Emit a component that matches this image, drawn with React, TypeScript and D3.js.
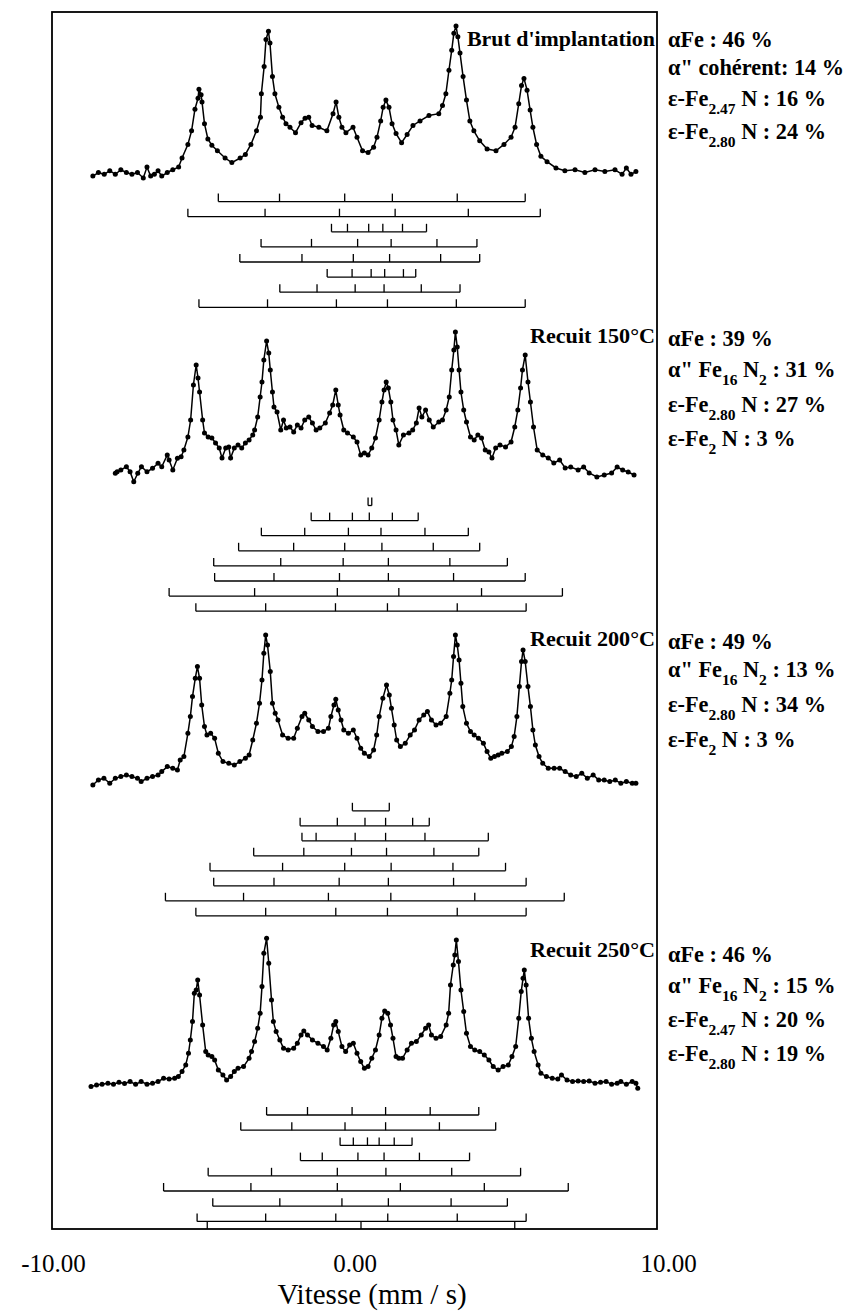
import React from "react";
import * as d3 from "d3";

type Pt = [number, number];

// ---------- DATA ----------
const AXIS_LABELS = [-10, 0, 10];
const AXIS_TICKS = [-5, 0, 5];
const AXIS_TITLE = "Vitesse (mm / s)";

const specBrut: Pt[] = [
  [-8.72,-4],[-8.54,0],[-8.35,-2],[-8.17,2],[-7.99,-2],[-7.81,3],[-7.63,0],[-7.45,-2],[-7.27,0],[-7.08,-6],[-6.96,6],[-6.84,-4],[-6.72,-2],[-6.60,2],[-6.48,-4],[-6.30,0],[-6.12,3],[-5.93,6],
  [-5.82,16],[-5.63,31],[-5.51,46],[-5.40,70],[-5.30,82],[-5.27,92],[-5.20,86],[-5.17,78],[-5.09,54],[-4.98,37],[-4.85,30],[-4.67,24],[-4.42,16],[-4.20,11],[-3.93,16],[-3.76,20],[-3.58,31],[-3.40,46],[-3.27,61],[-3.24,87],[-3.15,117],[-3.09,147],[-3.01,156],[-2.96,143],[-2.88,106],[-2.80,87],[-2.67,72],[-2.55,61],[-2.44,54],[-2.31,50],[-2.13,44],[-1.95,55],[-1.82,60],[-1.70,61],[-1.59,52],[-1.37,50],[-1.11,46],[-0.91,65],[-0.81,78],[-0.72,61],[-0.62,50],[-0.49,44],[-0.26,50],[-0.13,39],[0.05,24],[0.23,22],[0.41,28],[0.52,39],[0.64,57],[0.72,72],[0.81,80],[0.91,72],[1.01,54],[1.14,43],[1.32,33],[1.50,42],[1.69,52],[1.92,57],[2.21,63],[2.53,65],[2.65,74],[2.76,87],[2.86,113],[2.95,135],[3.02,154],[3.09,162],[3.15,150],[3.22,132],[3.32,106],[3.43,80],[3.54,57],[3.67,46],[3.86,35],[4.10,26],[4.39,24],[4.65,31],[4.88,39],[5.01,50],[5.13,76],[5.22,96],[5.30,104],[5.40,91],[5.50,69],[5.59,50],[5.71,31],[5.85,18],[6.05,12],[6.34,5],[6.63,2],[6.96,3],[7.28,0],[7.61,3],[7.93,1],[8.26,3],[8.49,-2],[8.63,5],[8.78,-2],[8.94,1]
];

const spec150: Pt[] = [
  [-7.99,1.7],[-7.93,3.3],[-7.81,5],[-7.63,8.3],[-7.51,3.3],[-7.39,-6.7],[-7.26,1.7],[-7.14,8.3],[-6.96,3.3],[-6.78,6.7],[-6.60,11.7],[-6.48,8.3],[-6.30,20],[-6.24,15],[-6.12,5],[-5.97,16.7],[-5.85,18.3],[-5.76,25],[-5.63,38],[-5.54,55],[-5.45,90],[-5.36,110],[-5.30,97],[-5.25,83],[-5.15,55],[-5.09,42],[-4.97,38],[-4.85,37],[-4.73,32],[-4.61,27],[-4.52,17],[-4.40,27],[-4.30,28],[-4.24,17],[-4.12,27],[-4.00,30],[-3.88,27],[-3.76,32],[-3.64,35],[-3.52,40],[-3.46,45],[-3.36,58],[-3.28,78],[-3.22,93],[-3.16,115],[-3.07,134],[-3.00,122],[-2.95,105],[-2.88,83],[-2.83,68],[-2.73,63],[-2.61,45],[-2.52,55],[-2.43,47],[-2.31,48],[-2.19,43],[-2.07,50],[-1.95,47],[-1.83,55],[-1.70,58],[-1.58,52],[-1.46,45],[-1.34,47],[-1.16,52],[-1.02,62],[-0.92,70],[-0.82,85],[-0.74,70],[-0.68,60],[-0.56,45],[-0.44,42],[-0.25,38],[-0.13,33],[-0.01,20],[0.11,22],[0.23,20],[0.35,27],[0.47,37],[0.59,55],[0.68,73],[0.75,85],[0.82,93],[0.89,87],[0.97,73],[1.04,55],[1.14,45],[1.23,30],[1.38,40],[1.56,42],[1.68,45],[1.80,52],[1.89,67],[1.98,58],[2.10,65],[2.22,55],[2.35,48],[2.53,53],[2.65,55],[2.77,65],[2.87,78],[2.95,105],[3.02,125],[3.07,143],[3.13,128],[3.19,105],[3.25,83],[3.34,65],[3.43,53],[3.56,38],[3.68,35],[3.80,40],[3.92,37],[4.04,25],[4.16,23],[4.26,17],[4.38,27],[4.52,30],[4.70,28],[4.88,33],[5.00,48],[5.10,65],[5.19,87],[5.25,105],[5.34,120],[5.43,93],[5.51,73],[5.61,48],[5.73,25],[5.91,20],[6.09,17],[6.27,12],[6.46,15],[6.64,7],[6.82,8],[7.06,5],[7.24,8],[7.42,2],[7.67,-2],[7.91,0],[8.15,2],[8.33,8],[8.51,5],[8.69,3],[8.88,0]
];

const spec200: Pt[] = [
  [-8.72,-1.7],[-8.54,3.3],[-8.36,5],[-8.17,0],[-7.99,5],[-7.81,6.7],[-7.63,8.3],[-7.45,6.7],[-7.27,5],[-7.15,1.7],[-6.96,5],[-6.78,6.7],[-6.60,8.3],[-6.48,11.7],[-6.30,16.7],[-6.12,15],[-5.97,13.3],[-5.88,23.3],[-5.76,26.7],[-5.63,50],[-5.55,66.7],[-5.48,86.7],[-5.39,105],[-5.32,116.7],[-5.25,105],[-5.18,78.3],[-5.09,56.7],[-5.01,48.3],[-4.89,50],[-4.76,45],[-4.64,30],[-4.49,21.7],[-4.30,20],[-4.12,18.3],[-3.94,21.7],[-3.76,25],[-3.64,28.3],[-3.52,43.3],[-3.40,60],[-3.30,80],[-3.22,103.3],[-3.16,130],[-3.10,148.3],[-3.04,138.3],[-2.95,111.7],[-2.88,80],[-2.79,70],[-2.70,63.3],[-2.55,48.3],[-2.37,45],[-2.19,45],[-2.07,55],[-1.92,66.7],[-1.83,70],[-1.70,63.3],[-1.58,56.7],[-1.40,51.7],[-1.22,51.7],[-1.06,55],[-0.98,66.7],[-0.88,78.3],[-0.82,84],[-0.74,73.3],[-0.65,63.3],[-0.56,53.3],[-0.41,50],[-0.25,53.3],[-0.13,45],[-0.01,35],[0.11,30],[0.27,26.7],[0.41,33.3],[0.51,48.3],[0.59,66.7],[0.71,85],[0.83,98.3],[0.92,88.3],[0.99,75],[1.08,58.3],[1.16,43.3],[1.28,36.7],[1.44,40],[1.60,48.3],[1.74,53.3],[1.89,63.3],[2.04,68.3],[2.16,71.7],[2.29,63.3],[2.44,58.3],[2.59,60],[2.77,66.7],[2.89,90],[2.95,103.3],[3.01,126.7],[3.07,148.3],[3.13,138.3],[3.19,123.3],[3.25,100],[3.31,76.7],[3.43,60],[3.56,51.7],[3.68,48.3],[3.82,45],[3.98,40],[4.10,31.7],[4.22,25],[4.34,26.7],[4.46,28.3],[4.58,30],[4.76,31.7],[4.89,36.7],[4.98,46.7],[5.07,66.7],[5.15,96.7],[5.22,121.7],[5.27,133.3],[5.34,121.7],[5.43,96.7],[5.51,76.7],[5.59,53.3],[5.67,38.3],[5.79,26.7],[5.91,20],[6.09,15],[6.28,15],[6.46,15],[6.64,11.7],[6.82,8.3],[7.00,6.7],[7.18,10],[7.36,5],[7.55,8.3],[7.73,3.3],[7.91,3.3],[8.09,1.7],[8.27,3.3],[8.45,0],[8.63,1.7],[8.82,0],[8.94,0]
];

const spec250: Pt[] = [
  [-8.78,-2.3],[-8.60,-0.7],[-8.42,0],[-8.23,1],[-8.05,0],[-7.87,2],[-7.69,0.7],[-7.51,2.7],[-7.33,0],[-7.15,2.7],[-6.96,0],[-6.78,1],[-6.60,2.7],[-6.42,6],[-6.24,5.3],[-6.06,6],[-5.94,7.7],[-5.82,12.7],[-5.70,19.3],[-5.61,31],[-5.55,44.3],[-5.48,62.7],[-5.42,91],[-5.36,94.3],[-5.31,104.3],[-5.25,89.3],[-5.15,59.3],[-5.05,32.7],[-4.97,29.3],[-4.85,27.7],[-4.76,24.3],[-4.64,14.3],[-4.49,9.3],[-4.37,4.3],[-4.24,7.7],[-4.12,12.7],[-4.00,16],[-3.82,17.7],[-3.64,26],[-3.56,32.7],[-3.46,42.7],[-3.36,56],[-3.28,71],[-3.22,97.7],[-3.16,131],[-3.07,146],[-3.00,121],[-2.91,84.3],[-2.85,62.7],[-2.76,52.7],[-2.64,44.3],[-2.52,36],[-2.37,34.3],[-2.19,36],[-2.07,41],[-1.95,49.3],[-1.86,53.3],[-1.74,49.3],[-1.58,44.3],[-1.40,41],[-1.22,37.7],[-1.10,34.3],[-0.98,46],[-0.89,59.3],[-0.82,62.7],[-0.74,52.7],[-0.62,37.7],[-0.50,32.7],[-0.37,39.3],[-0.25,41],[-0.13,31],[-0.01,22.7],[0.11,16],[0.23,17.7],[0.35,26],[0.47,34.3],[0.59,49.3],[0.68,66],[0.77,73.3],[0.87,71],[0.96,59.3],[1.04,46],[1.14,27.7],[1.23,26],[1.35,26],[1.50,34.3],[1.64,41],[1.80,42.7],[1.96,49.3],[2.10,56],[2.20,59.3],[2.29,49.3],[2.44,46],[2.59,47.7],[2.77,59.3],[2.85,71],[2.91,99.3],[3.00,119.3],[3.05,129.3],[3.10,144.3],[3.17,122.7],[3.25,94.3],[3.34,72.7],[3.43,51],[3.56,37.7],[3.70,34.3],[3.86,32.7],[4.01,29.3],[4.16,24.3],[4.30,17.7],[4.46,14.3],[4.62,17.7],[4.79,19.3],[4.91,27.7],[5.03,37.7],[5.13,66],[5.21,92.7],[5.27,106],[5.31,114.3],[5.37,99.3],[5.45,66],[5.54,46],[5.63,32.7],[5.76,19.3],[5.85,11],[6.03,7.7],[6.22,6],[6.40,5.3],[6.52,9.3],[6.70,4.3],[6.88,2.7],[7.06,3.3],[7.24,2.7],[7.42,3.3],[7.61,1],[7.79,2],[7.97,2.7],[8.15,0],[8.33,1],[8.45,2.7],[8.63,0],[8.82,2.7],[8.94,1],[9.00,-4]
];

const sticksBrut: number[][] = [
  [-4.64,-2.65,-0.53,1.02,3.13,5.34],
  [-5.63,-3.12,-0.70,1.11,3.49,5.83],
  [-0.96,-0.44,0.25,0.71,1.35,2.13],
  [-3.25,-1.61,-0.11,0.98,2.47,3.77],
  [-3.94,-1.92,-0.25,0.93,2.59,3.86],
  [-1.10,-0.29,0.33,0.77,1.38,1.78],
  [-2.64,-1.43,-0.19,0.75,1.96,3.22],
  [-5.27,-3.04,-0.80,0.86,3.10,5.34]
];
const sticks150: number[][] = [
  [0.23,0.35],
  [-1.62,-1.02,-0.28,0.27,1.02,1.86],
  [-3.24,-1.83,-0.41,0.65,2.08,3.49],
  [-3.98,-2.19,-0.53,0.68,2.35,3.86],
  [-4.79,-2.61,-0.58,0.89,2.89,4.76],
  [-4.76,-2.83,-0.70,0.89,3.01,5.34],
  [-6.24,-3.46,-0.77,1.23,3.92,6.55],
  [-5.37,-3.10,-0.83,0.86,3.13,5.37]
];
const sticks200: number[][] = [
  [-0.28,0.92],
  [-1.98,-0.77,0.13,0.80,1.68,2.22],
  [-1.92,-1.46,-0.19,0.80,2.08,4.14],
  [-3.49,-1.86,-0.31,0.83,2.37,3.83],
  [-4.91,-2.55,-0.53,0.98,2.99,4.70],
  [-4.79,-2.83,-0.71,0.89,3.01,5.37],
  [-6.36,-3.82,-1.06,0.97,3.70,6.61],
  [-5.37,-3.10,-0.82,0.86,3.13,5.37]
];
const sticks250: number[][] = [
  [-3.07,-1.74,-0.29,0.80,2.25,3.83],
  [-3.91,-2.25,-0.52,0.80,2.55,4.38],
  [-0.68,-0.25,0.21,0.59,1.08,1.66],
  [-1.97,-1.26,-0.10,0.75,1.90,3.53],
  [-4.97,-2.91,-0.77,0.81,2.95,5.19],
  [-6.42,-3.58,-0.77,1.28,4.01,6.74],
  [-4.82,-2.64,-0.62,0.89,2.93,4.76],
  [-5.33,-3.10,-0.82,0.87,3.13,5.37]
];

const panelTitles = ["Brut d'implantation", "Recuit 150°C", "Recuit 200°C", "Recuit 250°C"];

type Seg = { t: string; sub?: boolean };
const labelsBrut: Seg[][] = [
  [{ t: "αFe : 46 %" }],
  [{ t: "α\" cohérent: 14 %" }],
  [{ t: "ε-Fe" }, { t: "2.47", sub: true }, { t: " N : 16 %" }],
  [{ t: "ε-Fe" }, { t: "2.80", sub: true }, { t: " N : 24 %" }]
];
const labels150: Seg[][] = [
  [{ t: "αFe : 39 %" }],
  [{ t: "α\" Fe" }, { t: "16", sub: true }, { t: " N" }, { t: "2", sub: true }, { t: " : 31 %" }],
  [{ t: "ε-Fe" }, { t: "2.80", sub: true }, { t: " N : 27 %" }],
  [{ t: "ε-Fe" }, { t: "2", sub: true }, { t: " N : 3 %" }]
];
const labels200: Seg[][] = [
  [{ t: "αFe : 49 %" }],
  [{ t: "α\" Fe" }, { t: "16", sub: true }, { t: " N" }, { t: "2", sub: true }, { t: " : 13 %" }],
  [{ t: "ε-Fe" }, { t: "2.80", sub: true }, { t: " N : 34 %" }],
  [{ t: "ε-Fe" }, { t: "2", sub: true }, { t: " N : 3 %" }]
];
const labels250: Seg[][] = [
  [{ t: "αFe : 46 %" }],
  [{ t: "α\" Fe" }, { t: "16", sub: true }, { t: " N" }, { t: "2", sub: true }, { t: " : 15 %" }],
  [{ t: "ε-Fe" }, { t: "2.47", sub: true }, { t: " N : 20 %" }],
  [{ t: "ε-Fe" }, { t: "2.80", sub: true }, { t: " N : 19 %" }]
];

// ---------- LAYOUT ----------
const W = 848;
const H = 1314;
const FONT = "'Liberation Serif', 'Times New Roman', serif";
const frame = { left: 52, right: 657, top: 12, bottom: 1229 };

const panels = [
  { spec: specBrut, sticks: sticksBrut, labels: labelsBrut, title: panelTitles[0], base: 172.5, k: 0.905, stickY: 201.6, stickStep: 15.1, titleY: 46, titleW: 188, labelYs: [47, 75, 106, 139] },
  { spec: spec150, sticks: sticks150, labels: labels150, title: panelTitles[1], base: 475, k: 1, stickY: 505.5, stickStep: 15.1, titleY: 343, titleW: 125, labelYs: [346, 377, 412, 446] },
  { spec: spec200, sticks: sticks200, labels: labels200, title: panelTitles[2], base: 783.3, k: 1, stickY: 810.8, stickStep: 15, titleY: 646, titleW: 125, labelYs: [649, 677, 712, 747] },
  { spec: spec250, sticks: sticks250, labels: labels250, title: panelTitles[3], base: 1084.3, k: 1, stickY: 1115, stickStep: 15.2, titleY: 957, titleW: 125, labelYs: [962, 993, 1027, 1061] }
];

const x = d3.scaleLinear().domain([-10, 10]).range([53.5, 668.5]);

const LABEL_SIZE = 22.3;
const SUB_SIZE = 15.5;

function Label({ segs, y }: { segs: Seg[]; y: number }) {
  const out: React.ReactNode[] = [];
  let shifted = false;
  segs.forEach((s, i) => {
    let dy = 0;
    if (s.sub && !shifted) { dy = 8; shifted = true; }
    else if (!s.sub && shifted) { dy = -8; shifted = false; }
    out.push(
      <tspan key={i} dy={dy} fontSize={s.sub ? SUB_SIZE : LABEL_SIZE}>{s.t}</tspan>
    );
  });
  return (
    <text x={668} y={y} fontFamily={FONT} fontWeight={700} fontSize={LABEL_SIZE} style={{ whiteSpace: "pre" }} fill="#000">
      {out}
    </text>
  );
}

export default function App() {
  return (
    <svg width={W} height={H} style={{ position: "absolute", left: 0, top: 0, background: "#fff" }}>
      <rect x={0} y={0} width={W} height={H} fill="#fff" />
      <rect x={frame.left} y={frame.top} width={frame.right - frame.left} height={frame.bottom - frame.top} fill="none" stroke="#000" strokeWidth={1.8} />
      {AXIS_TICKS.map((t) => (
        <line key={t} x1={x(t)} x2={x(t)} y1={frame.bottom} y2={frame.bottom - 7} stroke="#000" strokeWidth={1.3} />
      ))}
      {AXIS_LABELS.map((t) => (
        <text key={t} x={x(t)} dx={t === 0 ? -6 : 0} y={1272} textAnchor="middle" fontFamily={FONT} fontSize={25} fill="#000">
          {t.toFixed(2)}
        </text>
      ))}
      <text x={372} y={1304} textAnchor="middle" fontFamily={FONT} fontSize={29} fill="#000">{AXIS_TITLE}</text>
      {panels.map((p, pi) => {
        const y = d3.scaleLinear().domain([0, 100]).range([p.base, p.base - 100 * p.k]);
        const line = d3.line<Pt>().x((d) => x(d[0])).y((d) => y(d[1]));
        return (
          <g key={pi}>
            <path d={line(p.spec) || ""} fill="none" stroke="#000" strokeWidth={1.5} />
            {p.spec.map((d, i) => (
              <circle key={i} cx={x(d[0])} cy={y(d[1])} r={2.5} fill="#000" />
            ))}
            {p.sticks.map((row, ri) => {
              const ry = p.stickY + ri * p.stickStep;
              const lo = d3.min(row) as number;
              const hi = d3.max(row) as number;
              return (
                <g key={ri} stroke="#000" strokeWidth={1.3}>
                  <line x1={x(lo)} x2={x(hi)} y1={ry} y2={ry} />
                  {row.map((v, vi) => (
                    <line key={vi} x1={x(v)} x2={x(v)} y1={ry} y2={ry - 8} />
                  ))}
                </g>
              );
            })}
            <text x={655} y={p.titleY} textAnchor="end" fontFamily={FONT} fontSize={21} fontWeight={600} textLength={p.titleW} lengthAdjust="spacingAndGlyphs" fill="#000">
              {p.title}
            </text>
            {p.labels.map((segs, li) => (
              <Label key={li} segs={segs} y={p.labelYs[li]} />
            ))}
          </g>
        );
      })}
    </svg>
  );
}
